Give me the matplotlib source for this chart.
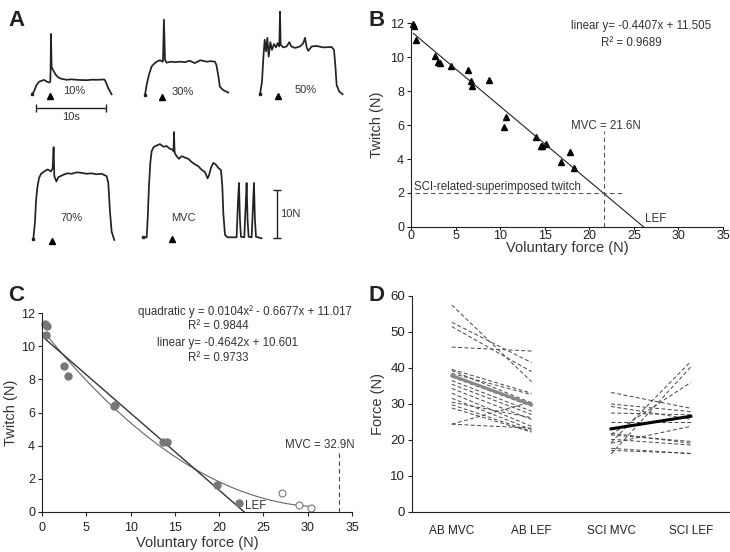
import numpy as np
import matplotlib
matplotlib.use('Agg')
import matplotlib.pyplot as plt

plt.rcParams['font.family'] = ['Liberation Sans', 'DejaVu Sans']

INK = '#222222'

# ---- panel A: force traces (time in s, force in N above baseline) ----
t_10 = [0, 0.29, 0.62, 1.0, 1.33, 1.67, 2.05, 2.43, 2.57, 2.62, 2.67, 2.76, 2.9, 3.1, 3.38,
        3.71, 4.19, 4.9, 5.6, 6.33, 7.0, 7.76, 8.5, 9.19, 10.3, 10.5, 10.86, 11.33]
f_10 = [0, 0.76, 1.94, 2.64, 2.78, 2.99, 2.64, 2.43, 2.57, 5.07, 12.5, 5.76, 5.2, 4.7, 4.0,
        3.5, 3.19, 3.0, 3.1, 3.0, 2.95, 2.92, 3.02, 3.0, 3.06, 2.57, 1.25, 0]

t_30 = [0, 0.24, 0.57, 0.95, 1.33, 1.67, 2.14, 2.57, 2.71, 2.86, 3.1, 3.7, 4.3, 5.0, 5.7,
        6.4, 7.1, 7.9, 8.8, 9.4, 10.0, 10.2, 10.5, 10.7, 11.2, 11.9]
f_30 = [0, 2.1, 4.2, 5.9, 6.5, 6.9, 7.2, 6.9, 15.6, 7.3, 6.7, 6.9, 6.8, 6.9, 6.8,
        7.1, 6.6, 7.2, 6.9, 7.0, 6.9, 6.25, 3.8, 1.7, 1.0, 0.5]

t_50 = [0, 0.29, 0.48, 0.67, 0.86, 1.05, 1.24, 1.48, 1.71, 2.0, 2.29, 2.52, 2.76, 2.86, 2.95,
        3.33, 3.81, 4.19, 4.48, 5.0, 5.71, 6.19, 6.43, 6.67, 6.9, 7.38, 8.1, 9.05, 10.24,
        10.57, 10.76, 10.95, 11.33, 11.8]
f_50 = [0, 2.6, 7.5, 11.3, 8.9, 11.7, 7.8, 10.8, 9.2, 10.4, 9.7, 10.6, 9.9, 17.1, 10.3,
        9.7, 9.9, 10.8, 9.9, 9.6, 9.9, 10.6, 11.7, 9.7, 9.0, 9.9, 10.0, 9.7, 9.8,
        9.2, 6.1, 1.9, 0.56, 0]

t_70 = [0, 0.24, 0.38, 0.57, 0.81, 1.1, 1.57, 2.05, 2.52, 2.76, 2.9, 3.0, 3.3, 3.57, 4.29,
        4.9, 5.48, 6.2, 6.9, 7.6, 8.33, 9.0, 9.76, 10.48, 10.71, 10.95, 11.19, 11.57]
f_70 = [0, 3.6, 7.8, 10.6, 12.6, 13.5, 14.0, 14.4, 14.0, 14.6, 19.0, 13.0, 11.9, 12.8, 13.3,
        13.6, 13.5, 13.8, 13.7, 13.5, 13.6, 13.4, 13.5, 13.0, 11.6, 5.7, 1.5, -0.2]

t_mvc = [0, 0.48, 0.62, 0.81, 1.0, 1.19, 1.48, 1.9, 2.38, 2.86, 3.33, 3.81, 4.14, 4.33, 4.38,
         4.48, 4.76, 5.1, 5.48, 5.95, 6.43, 6.9, 7.38, 7.86, 8.33, 8.81, 9.19, 9.38, 9.67,
         10.0, 10.33, 10.71, 11.1, 11.29, 11.43, 11.67, 12.05, 13.33, 13.52, 13.67, 13.81,
         13.95, 14.43, 14.62, 14.76, 14.9, 15.05, 15.48, 15.67, 15.81, 15.95, 16.1, 16.9]
f_mvc = [0, 0, 3.6, 10.6, 15.4, 17.8, 18.7, 19.0, 19.3, 18.75, 18.9, 18.3, 18.2, 17.8, 21.8,
         17.5, 16.8, 16.25, 16.8, 16.5, 16.25, 15.6, 15.1, 14.7, 14.0, 13.5, 12.2, 12.8, 14.4,
         15.4, 15.1, 14.4, 13.9, 10.6, 5.0, 0.5, 0, 0, 7.1, 11.25, 3.6,
         0.1, 0, 6.4, 11.25, 3.6, 0.1, 0, 6.4, 11.25, 3.6, 0.1, -0.2]

trace_labels = ['10%', '30%', '50%', '70%', 'MVC']
stim_times = [2.5, 2.5, 2.6, 2.7, 4.05]

# ---- panel B ----
b_x = [0.26, 0.37, 0.52, 2.7, 3.07, 3.26, 4.49, 6.36, 6.7, 6.85, 8.72, 10.67, 10.48,
       14.04, 14.6, 14.71, 15.16, 16.88, 17.86, 18.23]
b_y = [11.92, 11.8, 11.02, 10.04, 9.69, 9.65, 9.46, 9.26, 8.58, 8.29, 8.64, 6.45, 5.9,
       5.32, 4.77, 4.79, 4.89, 3.81, 4.44, 3.46]
b_slope, b_icept = -0.4407, 11.505
b_mvc = 21.6
b_sci_twitch = 2.0

# ---- panel C ----
c_x_fill = [0.3, 0.56, 0.45, 2.45, 2.94, 8.09, 8.2, 13.66, 14.11, 19.76, 22.2]
c_y_fill = [11.34, 11.2, 10.69, 8.78, 8.18, 6.41, 6.47, 4.22, 4.22, 1.65, 0.54]
c_x_open = [27.1, 28.98, 30.41]
c_y_open = [1.15, 0.4, 0.24]
c_quad = [0.0104, -0.6677, 11.017]
c_lin = [-0.4642, 10.601]
c_mvc = 33.5

# ---- panel D ----
d_labels = ['AB MVC', 'AB LEF', 'SCI MVC', 'SCI LEF']
ab_mvc = [57.5, 52.7, 51.5, 45.8, 39.6, 39.3, 38.5, 37.5, 36.5, 35.5, 34.3, 31.6, 29.8,
          28.9, 24.4, 24.4, 30.5, 33.0]
ab_lef = [36.2, 41.5, 39.0, 44.7, 33.0, 30.3, 32.6, 29.4, 28.0, 27.1, 25.7, 22.9, 22.4,
          22.2, 30.6, 23.3, 26.2, 23.8]
sci_mvc = [16.1, 19.3, 21.5, 33.2, 30.0, 29.3, 27.5, 25.1, 21.9, 21.4, 20.2, 17.7, 17.1, 19.1]
sci_lef = [40.3, 41.8, 36.0, 28.8, 27.9, 25.8, 27.0, 25.1, 19.1, 19.6, 18.6, 16.2, 16.3, 23.8]
ab_mean = [37.9, 29.8]
sci_mean = [23.1, 26.6]

W, H = 730, 552
fig = plt.figure(figsize=(W / 100, H / 100), dpi=100)


def box(l, t, r, b):
    return [l / W, 1 - b / H, (r - l) / W, (b - t) / H]


def style(ax, size=9):
    for s in ['top', 'right']:
        ax.spines[s].set_visible(False)
    for s in ['left', 'bottom']:
        ax.spines[s].set_color(INK)
        ax.spines[s].set_linewidth(0.8)
    ax.tick_params(direction='out', length=3, width=0.8, colors=INK, labelsize=size, pad=2)


# A
px_s, px_n = 7.0, 4.83
axA = fig.add_axes(box(0, 0, 360, 270))
axA.set_xlim(0, 360 / px_s)
axA.set_ylim(0, 270 / px_n)
axA.axis('off')
traces = [(t_10, f_10), (t_30, f_30), (t_50, f_50), (t_70, f_70), (t_mvc, f_mvc)]
origins = [(4.61, 36.38), (20.71, 36.23), (37.14, 36.38), (4.76, 6.42), (20.47, 6.77)]
label_at = [(5.96, 0.68), (5.43, 0.62), (6.57, 0.89), (5.39, 4.35), (5.67, 4.0)]
for (t, f), (x0, y0), lab, (lx, ly), st in zip(traces, origins, trace_labels, label_at, stim_times):
    axA.plot(np.array(t) + x0, np.array(f) + y0, color=INK, lw=1.25)
    axA.plot(x0, y0, 's', color=INK, ms=2)
    axA.plot(x0 + st, y0 - 0.45, '^', color='black', ms=5)
    axA.text(x0 + lx, y0 + ly, lab, fontsize=8, color='#333333', ha='center', va='center')
# scale bars
axA.errorbar([5.1 + 5], [33.6], xerr=[5], color=INK, lw=1, capsize=3, capthick=1)
axA.text(10.14, 31.7, '10s', fontsize=8, color='#333333', ha='center', va='center')
axA.errorbar([39.53], [6.6 + 5], yerr=[5], color=INK, lw=1, capsize=3, capthick=1)
axA.text(40.0, 11.6, '10N', fontsize=8, color='#333333', ha='left', va='center')

# B
axB = fig.add_axes(box(411, 23, 723, 227))
style(axB)
axB.tick_params(axis='x', length=2, pad=0.5)
axB.set_xlim(0, 35)
axB.set_ylim(0, 12)
axB.set_xticks(range(0, 36, 5))
axB.set_yticks(range(0, 13, 2))
axB.plot(b_x, b_y, '^', color='black', ms=5, clip_on=False)
xr = np.array([0.26, -b_icept / b_slope])
axB.plot(xr, b_slope * xr + b_icept, color=INK, lw=0.8)
axB.plot([0.5, 24.0], [b_sci_twitch, b_sci_twitch], '--', color='#555555', lw=0.8, dashes=(4, 3))
axB.plot([b_mvc, b_mvc], [0, 5.67], '--', color='#555555', lw=0.8, dashes=(4, 3))
axB.text(18.0, 5.94, 'MVC = 21.6N', fontsize=8.3, color='#333333', va='center')
axB.text(0.37, 2.38, 'SCI-related-superimposed twitch', fontsize=8.3, color='#333333', va='center')
axB.text(26.3, 0.47, 'LEF', fontsize=8.3, color='#333333', va='center')
axB.text(25.8, 11.8, 'linear y= -0.4407x + 11.505', fontsize=8.3, color='#333333',
         ha='center', va='center')
axB.text(24.7, 10.83, 'R² = 0.9689', fontsize=8.3, color='#333333', ha='center', va='center')
axB.set_xlabel('Voluntary force (N)', fontsize=10.5, color='#333333', labelpad=-1)
axB.set_ylabel('Twitch (N)', fontsize=10.5, color='#333333', labelpad=4)

# C
axC = fig.add_axes(box(42, 313, 352, 512))
style(axC)
axC.tick_params(axis='x', pad=4)
axC.set_xlim(0, 35)
axC.set_ylim(0, 12)
axC.set_xticks(range(0, 36, 5))
axC.set_yticks(range(0, 13, 2))
xq = np.linspace(0.3, 30.5, 120)
axC.plot(xq, np.polyval(c_quad, xq), color='#666666', lw=0.8)
xl = np.array([0.3, -c_lin[1] / c_lin[0]])
axC.plot(xl, np.polyval(c_lin, xl), color='#333333', lw=1.0)
axC.plot(c_x_fill, c_y_fill, 'o', color='#777777', ms=5, clip_on=False)
axC.plot(c_x_open, c_y_open, 'o', mfc='white', mec='#777777', mew=0.8, ms=5)
axC.plot([c_mvc, c_mvc], [0, 3.76], '--', color='#444444', lw=0.8, dashes=(4, 3))
axC.text(31.4, 4.06, 'MVC = 32.9N', fontsize=8.3, color='#333333', ha='center', va='center')
axC.text(22.96, 0.38, 'LEF', fontsize=8.3, color='#333333', va='center')
axC.text(22.96, 12.1, 'quadratic y = 0.0104x² - 0.6677x + 11.017', fontsize=8.3, color='#333333',
         ha='center', va='center')
axC.text(19.9, 11.2, 'R² = 0.9844', fontsize=8.3, color='#333333', ha='center', va='center')
axC.text(20.96, 10.19, 'linear y= -0.4642x + 10.601', fontsize=8.3, color='#333333',
         ha='center', va='center')
axC.text(19.9, 9.29, 'R² = 0.9733', fontsize=8.3, color='#333333', ha='center', va='center')
axC.set_xlabel('Voluntary force (N)', fontsize=10.5, color='#333333', labelpad=2)
axC.set_ylabel('Twitch (N)', fontsize=10.5, color='#333333', labelpad=2)

# D
axD = fig.add_axes(box(412, 296, 729, 512))
style(axD, size=9.5)
axD.set_xlim(0.5, 4.48)
axD.set_ylim(0, 60)
axD.set_yticks(range(0, 61, 10))
axD.set_xticks([1, 2, 3, 4])
axD.set_xticklabels(d_labels, fontsize=8.5)
axD.tick_params(axis='x', length=0, pad=9)
for a, b in zip(ab_mvc, ab_lef):
    axD.plot([1, 2], [a, b], '--', color='#444444', lw=0.7, dashes=(4, 2.5))
for a, b in zip(sci_mvc, sci_lef):
    axD.plot([3, 4], [a, b], '--', color='#444444', lw=0.7, dashes=(4, 2.5))
axD.plot([1, 2], ab_mean, color='#888888', lw=2.2)
axD.plot([3, 4], sci_mean, color='black', lw=2.2)
axD.set_ylabel('Force (N)', fontsize=10.5, color='#333333', labelpad=4)

# panel letters
for lab, x, y in [('A', 8, 10), ('B', 369, 10), ('C', 8, 285), ('D', 369, 285)]:
    fig.text(x / W, 1 - y / H, lab, fontsize=16, fontweight='bold', color=INK, va='top')

fig.savefig('out.png', dpi=100)
